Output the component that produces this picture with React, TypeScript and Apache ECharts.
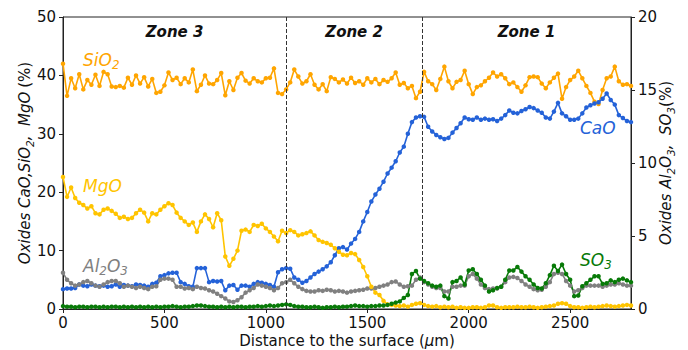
import React, { useEffect, useRef } from 'react';
import * as echarts from 'echarts';

// Sampling grid of the profile (µm)
const DISTANCE: number[] = Array.from({ length: 141 }, (_, i) => i * 20);

// Left axis (%)
const SIO2 = [
  42, 36.5, 39.5, 37.8, 40.2, 37.6, 39.2, 38.4, 40.1, 38.2,
  40.6, 40.2, 38.1, 38.0, 38.2, 37.9, 39.6, 38.4, 40.0, 38.6,
  39.7, 38.1, 39.4, 37.0, 37.2, 38.3, 40.5, 39.2, 39.6, 38.5,
  39.5, 38.8, 41.0, 37.3, 38.4, 40.0, 38.6, 38.5, 39.2, 40.4,
  36.6, 39.0, 37.5, 39.6, 40.4, 39.1, 38.6, 39.5, 39.0, 38.8,
  39.5, 39.6, 41.2, 37.0, 36.8, 37.6, 38.8, 41.0, 39.8, 38.6,
  39.0, 40.2, 38.4, 37.6, 38.5, 37.3, 39.7, 39.4, 38.8, 39.3,
  38.6, 39.6, 38.7, 39.0, 38.4, 39.5, 38.8, 39.4, 38.5, 39.2,
  38.9, 39.5, 40.5, 38.4, 38.7, 37.8, 38.2, 36.1, 37.2, 40.6,
  39.0, 38.5, 37.5, 39.4, 41.5, 39.0, 37.8, 38.9, 39.2, 40.8,
  38.5, 36.8, 38.0, 38.3, 39.0, 39.6, 40.5, 39.8, 40.2, 39.5,
  38.5, 38.8, 38.0, 37.2, 38.3, 39.7, 39.8, 39.7, 38.6, 37.8,
  38.8, 39.6, 40.3, 36.0, 38.0, 39.2, 39.8, 40.8, 39.5, 38.2,
  37.0, 35.5, 35.1, 37.5, 39.5, 39.8, 41.5, 39.0, 38.4, 38.5,
  38.2,
];

const CAO = [
  3.4, 3.5, 3.5, 3.6, 4.2, 4.0, 3.9, 4.2, 4.0, 3.9,
  4.0, 3.8, 3.9, 4.2, 3.8, 4.1, 4.0, 3.9, 4.2, 4.1,
  4.0, 3.8, 4.3, 4.5, 5.6, 5.8, 6.1, 6.2, 6.2, 4.6,
  4.3, 3.9, 3.8, 7.0, 7.0, 7.0, 4.6, 4.8, 4.7, 4.8,
  3.2, 4.0, 4.1, 3.3, 4.0, 4.0, 3.8, 4.3, 4.6, 4.5,
  4.3, 4.1, 3.8, 6.3, 6.8, 7.0, 6.9, 5.4, 5.0, 4.5,
  4.8, 5.4, 6.0, 6.4, 6.8, 7.3, 8.0, 9.2, 10.4, 10.6,
  10.2, 11.2, 12.0, 13.2, 15.0, 16.6, 18.4, 19.6, 20.6, 21.8,
  23.2, 24.2, 25.3, 26.8, 27.8, 30.0, 32.0, 32.8, 33.0, 32.9,
  31.2, 30.4, 29.8, 29.4, 29.1, 29.3, 30.2, 31.0, 31.8, 32.8,
  32.5, 32.4, 32.8, 32.4, 32.6, 32.4, 32.5, 32.2, 32.6, 33.2,
  34.0, 33.6, 33.5, 33.9, 34.2, 34.6, 34.4, 34.0, 33.6, 32.8,
  32.6, 33.8, 35.3, 33.5, 33.0, 32.4, 32.4, 32.6, 33.5, 34.5,
  34.9, 35.2, 35.4, 36.0, 36.9, 35.8, 35.0, 33.2, 32.7, 32.2,
  32.0,
];

const MGO = [
  22.6, 19.2, 20.8, 19.0, 18.2, 17.8, 17.2, 17.6, 16.4, 16.2,
  17.0, 17.2, 16.8, 16.3, 15.6, 15.8, 15.4, 15.6, 16.4, 17.0,
  16.5, 15.0, 16.4, 16.2, 17.0, 17.6, 18.1, 17.8, 16.5, 15.6,
  15.0, 14.4, 14.8, 13.2, 15.0, 16.2, 15.4, 14.0, 16.4, 15.2,
  9.0, 7.4, 8.6, 10.0, 13.4, 13.6, 13.2, 14.4, 14.2, 14.6,
  13.8, 13.2, 12.4, 11.6, 13.4, 13.0, 13.5, 13.2, 12.6, 12.8,
  13.0, 13.3, 12.6, 11.8, 11.5, 11.3, 11.0, 10.4, 9.8, 9.3,
  9.2, 9.6, 9.4, 8.4, 7.2, 5.6, 3.8, 2.8, 2.4, 1.4,
  0.8, 0.7, 0.6, 0.5, 0.6, 0.4, 0.7, 0.9, 1.0, 0.7,
  0.5, 0.4, 0.5, 0.3, 0.4, 0.3, 0.4, 0.2, 0.3, 0.2,
  0.2, 0.3, 0.3, 0.2, 0.3, 0.6, 0.6, 0.3, 0.2, 0.3,
  0.3, 0.3, 0.4, 0.3, 0.3, 0.4, 0.3, 0.2, 0.3, 0.4,
  0.5, 0.6, 0.9, 1.0, 0.9, 0.5, 0.3, 0.3, 0.2, 0.3,
  0.4, 0.3, 0.4, 0.5, 0.6, 0.5, 0.4, 0.5, 0.6, 0.7,
  0.6,
];

// Right axis (%)
const AL2O3 = [
  2.48, 2.0, 1.76, 1.6, 1.68, 1.84, 1.92, 1.76, 1.6, 1.52,
  1.68, 1.84, 1.92, 1.92, 1.76, 1.52, 1.6, 1.52, 1.44, 1.52,
  1.44, 1.36, 1.52, 1.56, 2.0, 2.08, 2.08, 2.0, 1.52, 1.52,
  1.4, 1.44, 1.36, 1.52, 1.44, 1.4, 1.28, 1.2, 1.04, 0.88,
  0.72, 0.52, 0.48, 0.6, 0.8, 1.12, 1.28, 1.44, 1.68, 1.6,
  1.52, 1.44, 1.28, 1.44, 1.76, 1.84, 2.0, 1.76, 1.52, 1.36,
  1.24, 1.2, 1.2, 1.28, 1.24, 1.32, 1.28, 1.2, 1.24, 1.2,
  1.12, 1.2, 1.24, 1.28, 1.32, 1.4, 1.4, 1.44, 1.52, 1.6,
  1.68, 1.84, 1.88, 1.68, 1.52, 1.56, 1.6, 2.0, 2.16, 1.84,
  1.68, 1.52, 1.44, 1.44, 1.2, 1.2, 1.52, 1.52, 1.6, 1.6,
  2.24, 2.4, 2.08, 1.68, 1.44, 1.36, 1.4, 1.4, 1.52, 1.84,
  2.16, 2.2, 2.12, 1.92, 1.68, 1.52, 1.36, 1.28, 1.32, 1.52,
  1.84, 2.4, 2.48, 2.4, 1.92, 1.6, 1.2, 1.28, 1.44, 1.6,
  1.6, 1.6, 1.6, 1.52, 1.6, 1.68, 1.68, 1.76, 1.68, 1.6,
  1.6,
];

const SO3 = [
  0.20, 0.16, 0.16, 0.12, 0.16, 0.16, 0.12, 0.16, 0.16, 0.12,
  0.16, 0.12, 0.16, 0.16, 0.12, 0.16, 0.12, 0.16, 0.12, 0.16,
  0.12, 0.16, 0.12, 0.16, 0.12, 0.16, 0.16, 0.20, 0.16, 0.12,
  0.16, 0.16, 0.20, 0.24, 0.24, 0.20, 0.16, 0.16, 0.12, 0.16,
  0.12, 0.16, 0.12, 0.16, 0.16, 0.12, 0.16, 0.16, 0.20, 0.16,
  0.20, 0.24, 0.20, 0.24, 0.28, 0.32, 0.28, 0.20, 0.16, 0.16,
  0.12, 0.12, 0.16, 0.12, 0.08, 0.12, 0.12, 0.16, 0.12, 0.16,
  0.16, 0.20, 0.24, 0.20, 0.20, 0.16, 0.20, 0.20, 0.24, 0.24,
  0.28, 0.36, 0.44, 0.52, 0.76, 0.96, 2.40, 2.60, 2.08, 1.92,
  1.76, 1.60, 1.52, 1.60, 0.88, 0.72, 1.84, 1.92, 2.16, 1.68,
  2.64, 2.72, 2.40, 2.00, 1.60, 1.20, 1.28, 1.44, 1.52, 2.00,
  2.64, 2.64, 2.88, 2.56, 2.24, 2.00, 1.68, 1.44, 1.40, 1.76,
  2.32, 2.96, 2.60, 3.04, 2.40, 2.00, 0.88, 0.92, 1.56, 1.76,
  2.00, 2.24, 2.24, 1.72, 1.76, 1.96, 1.84, 2.00, 2.08, 1.96,
  1.84,
];

const ZONE_BOUNDS = [1100, 1770];
const ZONE_NAMES = ['Zone 3', 'Zone 2', 'Zone 1'];
const X_MAX = 2800;

const FONT = 'DejaVu Sans';
const C_SIO2 = '#FFA500';
const C_CAO = '#2462D8';
const C_MGO = '#FFC400';
const C_AL = '#808080';
const C_SO3 = '#087A08';

const pair = (vals: number[]) => DISTANCE.map((d, i) => [d, vals[i]]);

const lineSeries = (name: string, vals: number[], color: string, yAxisIndex: number, extra: any = {}) => ({
  name,
  type: 'line',
  yAxisIndex,
  data: pair(vals),
  symbol: 'circle',
  symbolSize: 4.5,
  showSymbol: true,
  lineStyle: { color, width: 1.6 },
  itemStyle: { color },
  ...extra,
});

const subRich = (color: string, size: number) => ({
  i: { color, fontSize: size, fontStyle: 'italic', fontFamily: FONT, lineHeight: size + 5 },
  s: { color, fontSize: size * 0.7, fontStyle: 'italic', fontFamily: FONT, lineHeight: size + 5, verticalAlign: 'bottom' },
  n: { color, fontSize: size, fontFamily: FONT, lineHeight: size + 5 },
});

const gRich = (color: string, size: number) => ({
  m: { fill: color, fontSize: size, fontStyle: 'italic', fontFamily: FONT, lineHeight: size + 6 },
  s: { fill: color, fontSize: size * 0.7, fontStyle: 'italic', fontFamily: FONT, lineHeight: size + 6, verticalAlign: 'bottom' },
});

export default function App() {
  const ref = useRef<HTMLDivElement>(null);
  useEffect(() => {
    if (!ref.current) return;
    const chart = echarts.init(ref.current, undefined, { renderer: 'svg' });
    const axisCol = '#222';
    const zoneEdges = [0, ...ZONE_BOUNDS, X_MAX];
    const option: any = {
      animation: false,
      textStyle: { fontFamily: FONT },
      grid: {
        left: 63, right: 57, top: 17, bottom: 41, show: true, borderColor: axisCol, borderWidth: 1,
        backgroundColor: 'transparent', containLabel: false, outerBoundsMode: 'none',
      },
      xAxis: {
        type: 'value', min: 0, max: X_MAX, interval: 500,
        axisLine: { show: true, lineStyle: { color: axisCol } },
        axisTick: { show: true, length: 4, lineStyle: { color: axisCol } },
        axisLabel: { fontSize: 15, color: '#111', margin: 6, showMaxLabel: false, fontFamily: FONT, formatter: (v: number) => String(v) },
        splitLine: { show: false },
        name: '{n|Distance to the surface (}{i|μ}{n|m)}',
        nameLocation: 'middle', nameGap: 22, nameMoveOverlap: false,
        nameTextStyle: { rich: subRich('#111', 15) },
      },
      yAxis: [
        {
          type: 'value', min: 0, max: 50, interval: 10, position: 'left',
          axisLine: { show: true, lineStyle: { color: axisCol } },
          axisTick: { show: true, length: 4, lineStyle: { color: axisCol } },
          axisLabel: { fontSize: 15, color: '#111', margin: 7, fontFamily: FONT },
          splitLine: { show: false },
          name: '{i|Oxides CaO,SiO}{s|2}{i|,  MgO} {n|(%)}',
          nameLocation: 'middle', nameGap: 28, nameRotate: 90, nameMoveOverlap: false,
          nameTextStyle: { rich: subRich('#111', 15) },
        },
        {
          type: 'value', min: 0, max: 20, interval: 5, position: 'right',
          axisLine: { show: true, lineStyle: { color: axisCol } },
          axisTick: { show: true, length: 4, lineStyle: { color: axisCol } },
          axisLabel: { fontSize: 15, color: '#111', margin: 7, fontFamily: FONT },
          splitLine: { show: false },
          name: '{i|Oxides Al}{s|2}{i|O}{s|3}{i|,  SO}{s|3}{n|(%)}',
          nameLocation: 'middle', nameGap: 25, nameRotate: 90, nameMoveOverlap: false,
          nameTextStyle: { rich: subRich('#111', 15) },
        },
      ],
      series: [
        lineSeries('SiO2', SIO2, C_SIO2, 0, {
          markLine: {
            silent: true, symbol: 'none', label: { show: false },
            lineStyle: { type: 'dashed', color: '#333', width: 1 },
            data: ZONE_BOUNDS.map((b) => ({ xAxis: b })),
          },
          markArea: {
            silent: true,
            itemStyle: { color: 'rgba(0,0,0,0)' },
            label: { show: true, position: 'insideTop', distance: 7, fontSize: 15, fontWeight: 'bold', fontStyle: 'italic', color: '#111', fontFamily: FONT },
            data: ZONE_NAMES.map((n, i) => [{ name: n, xAxis: zoneEdges[i] }, { xAxis: zoneEdges[i + 1] }]),
          },
        }),
        lineSeries('CaO', CAO, C_CAO, 0),
        lineSeries('Al2O3', AL2O3, C_AL, 1),
        lineSeries('MgO', MGO, C_MGO, 0),
        lineSeries('SO3', SO3, C_SO3, 1),
      ],
      graphic: [
        { type: 'text', left: 83, top: 51, style: { text: '{m|SiO}{s|2}', rich: gRich(C_SIO2, 17) } },
        { type: 'text', left: 83, top: 177, style: { text: '{m|MgO}', rich: gRich(C_MGO, 17) } },
        { type: 'text', left: 83, top: 257, style: { text: '{m|Al}{s|2}{m|O}{s|3}', rich: gRich(C_AL, 17) } },
        { type: 'text', left: 580, top: 119, style: { text: '{m|CaO}', rich: gRich(C_CAO, 17) } },
        { type: 'text', left: 580, top: 251, style: { text: '{m|SO}{s|3}', rich: gRich(C_SO3, 17) } },
      ],
    };
    chart.setOption(option);
    return () => chart.dispose();
  }, []);
  return (
    <div
      ref={ref}
      style={{ position: 'fixed', left: 0, top: 0, width: 688, height: 350, background: '#fff' }}
    />
  );
}
